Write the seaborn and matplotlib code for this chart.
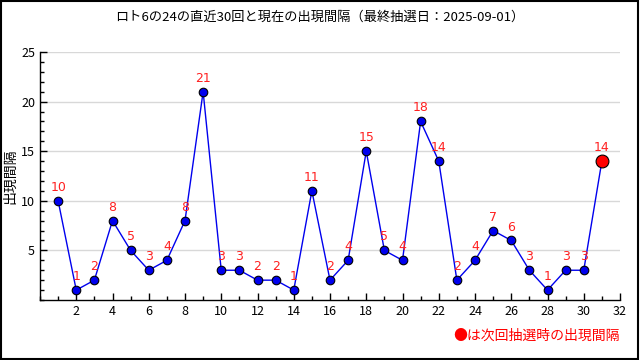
import matplotlib
matplotlib.use("Agg")
import matplotlib.pyplot as plt
import seaborn as sns
import pandas as pd
from matplotlib.ticker import MultipleLocator

sns.set_theme(style="white")
plt.rcParams['font.family'] = ['Noto Sans CJK JP', 'DejaVu Sans']

draws = list(range(1, 32))
intervals = [10, 1, 2, 8, 5, 3, 4, 8, 21, 3, 3, 2, 2, 1, 11, 2, 4, 15, 5, 4, 18, 14, 2, 4, 7, 6, 3, 1, 3, 3, 14]
title = "ロト6の24の直近30回と現在の出現間隔（最終抽選日：2025-09-01）"
ylabel = "出現間隔"
note = "●は次回抽選時の出現間隔"

df = pd.DataFrame({"draw": draws, "interval": intervals})

fig = plt.figure(figsize=(6.4, 3.6), dpi=100)
ax = fig.add_axes([40/640, 1-300/360, 580/640, 248/360])

ax.yaxis.grid(True, color="#d8d8d8", linewidth=1)
ax.set_axisbelow(True)

sns.lineplot(data=df, x="draw", y="interval", ax=ax, color="#0000ee", linewidth=1, zorder=2)
past = df.iloc[:-1]
last = df.iloc[-1:]
sns.scatterplot(data=past, x="draw", y="interval", ax=ax, color="#0000ee", edgecolor="black",
                linewidth=0.8, s=38, zorder=3)
sns.scatterplot(data=last, x="draw", y="interval", ax=ax, color="#ff0000", edgecolor="black",
                linewidth=0.8, s=85, zorder=3)

for x, y in zip(draws, intervals):
    ax.annotate(str(y), (x, y), xytext=(0, 5), textcoords="offset points", ha="center", va="bottom",
                color="#ff2020", fontsize=9, family=['DejaVu Sans'])

ax.set_xlim(0, 32)
ax.set_ylim(0, 25)
ax.xaxis.set_minor_locator(MultipleLocator(1))
ax.yaxis.set_minor_locator(MultipleLocator(1))
ax.set_xticks(range(2, 33, 2))
ax.set_yticks(range(5, 26, 5))
ax.tick_params(axis="both", which="major", direction="in", length=5, width=1, color="black",
               labelsize=9, labelcolor="black", left=True, bottom=True)
ax.tick_params(axis="both", which="minor", direction="in", length=3, width=1, color="black",
               left=True, bottom=True)
ax.set_xlabel("")
ax.set_ylabel(ylabel, fontsize=10, color="black")
ax.yaxis.set_label_coords(-0.04, 0.5)

for side in ["top", "right"]:
    ax.spines[side].set_visible(False)
for side in ["left", "bottom"]:
    ax.spines[side].set_color("black")
    ax.spines[side].set_linewidth(1)

fig.text(0.5, 1-17/360, title, ha="center", va="center", fontsize=9.5, color="black")
fig.text(620/640, 1-336/360, note, ha="right", va="center", fontsize=10, color="#ff0000")

border = plt.Rectangle((0.001, 0.002), 0.996, 0.996, transform=fig.transFigure, fill=False,
                       edgecolor="black", linewidth=1.5)
fig.patches.append(border)

fig.savefig("out.png", dpi=100)
